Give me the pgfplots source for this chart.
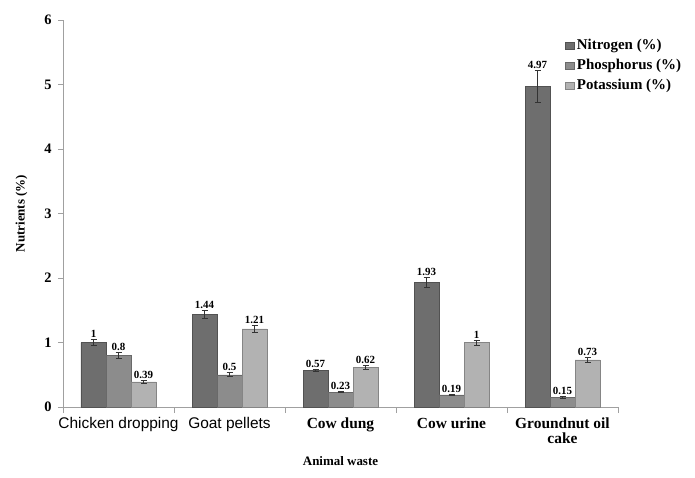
\documentclass[border=0pt]{standalone}
\usepackage{fontspec}
\setmainfont{Liberation Serif}
\setsansfont{Liberation Sans}
\usepackage{pgfplots}
\usepackage{pgfplotstable}
\pgfplotsset{compat=1.18}
\definecolor{cN}{HTML}{6E6E6E}
\definecolor{cP}{HTML}{8C8C8C}
\definecolor{cK}{HTML}{B2B2B2}
\definecolor{axg}{HTML}{A0A0A0}
\pgfplotstableread{
x N Nerr Nl P Perr Pl K Kerr Kl
0 1.00 0.05 1 0.80 0.04 0.8 0.39 0.02 0.39
1 1.44 0.06 1.44 0.50 0.03 0.5 1.21 0.06 1.21
2 0.57 0.02 0.57 0.23 0.01 0.23 0.62 0.03 0.62
3 1.93 0.08 1.93 0.19 0.01 0.19 1.00 0.04 1
4 4.97 0.25 4.97 0.15 0.02 0.15 0.73 0.04 0.73
}\datatab
\begin{document}
\begin{tikzpicture}
\begin{axis}[
  name=a,
  scale only axis,
  width=555bp, height=387bp,
  ybar=0pt, bar width=25bp,
  xmin=-0.5, xmax=4.5,
  ymin=0, ymax=6,
  ytick={0,1,2,3,4,5,6},
  yticklabels={0,1,2,3,4,5,6},
  axis lines*=left,
  axis line style={axg, line width=1pt},
  y axis line style={-}, x axis line style={-},
  tick style={axg, line width=0.8pt},
  major tick length=5bp,
  tick align=outside,
  xtick={0,1,2,3,4},
  xticklabels={{\sffamily\mdseries Chicken dropping},{\sffamily\mdseries Goat pellets},Cow dung,Cow urine,{Groundnut oil\\cake}},
  major x tick style={draw=none},
  minor xtick={-0.5,0.5,1.5,2.5,3.5,4.5},
  minor tick length=6bp,
  minor x tick style={axg, line width=0.8pt},
  xticklabel style={font=\fontsize{15.5}{15}\selectfont\bfseries, align=center, yshift=-2bp},
  yticklabel style={font=\fontsize{14.5}{15}\selectfont\bfseries, xshift=-3bp},
  ylabel={Nutrients (\%)},
  ylabel style={font=\fontsize{13}{14}\selectfont\bfseries, yshift=10bp},
  xlabel={Animal waste},
  xlabel style={font=\fontsize{13}{14}\selectfont\bfseries, yshift=-6bp},
  point meta=explicit symbolic,
  nodes near coords,
  nodes near coords style={font=\fontsize{11}{12}\selectfont\bfseries, inner sep=1.5bp},
  legend style={at={(0.905,0.955)}, anchor=north west, draw=none, fill=none,
    font=\fontsize{15}{16}\selectfont\bfseries, row sep=4bp, inner sep=0pt},
  legend cell align=left,
  legend image code/.code={\fill[#1] (0bp,-3.5bp) rectangle (9bp,3.5bp);},
  error bars/error bar style={black!80, line width=0.7pt},
  error bars/error mark options={rotate=90, mark size=3bp, line width=0.7pt},
]
\addplot[fill=cN, draw=cN!75!black, line width=0.4pt,
  visualization depends on={\thisrow{Nerr} \as \er},
  nodes near coords style={yshift={\er*64.5bp}},
  error bars/.cd, y dir=both, y explicit]
  table[x=x, y=N, y error=Nerr, meta=Nl]{\datatab};
\addplot[fill=cP, draw=cP!75!black, line width=0.4pt,
  visualization depends on={\thisrow{Perr} \as \er},
  nodes near coords style={yshift={\er*64.5bp}},
  error bars/.cd, y dir=both, y explicit]
  table[x=x, y=P, y error=Perr, meta=Pl]{\datatab};
\addplot[fill=cK, draw=cK!75!black, line width=0.4pt,
  visualization depends on={\thisrow{Kerr} \as \er},
  nodes near coords style={yshift={\er*64.5bp}},
  error bars/.cd, y dir=both, y explicit]
  table[x=x, y=K, y error=Kerr, meta=Kl]{\datatab};
\legend{Nitrogen (\%),Phosphorus (\%),Potassium (\%)}
\end{axis}
\pgfresetboundingbox
\path ([xshift=-63bp,yshift=-70bp]a.south west) rectangle ([xshift=77bp,yshift=20bp]a.north east);
\end{tikzpicture}
\end{document}
